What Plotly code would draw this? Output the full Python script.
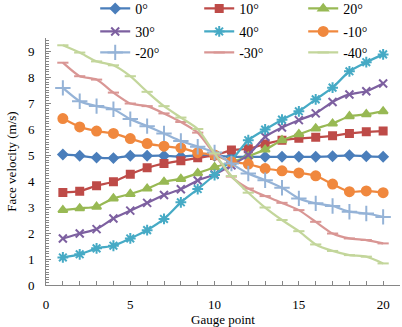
import plotly.graph_objects as go

# gauge points along the face
gauge = [1, 2, 3, 4, 5, 6, 7, 8, 9, 10, 11, 12, 13, 14, 15, 16, 17, 18, 19, 20]

# face velocity (m/s) for each inclination angle
v_0 = [5.02, 4.97, 4.90, 4.88, 4.97, 4.97, 4.97, 4.94, 4.99, 4.97,
       4.93, 4.93, 4.93, 4.93, 4.93, 4.93, 4.95, 4.99, 4.95, 4.93]
v_10 = [3.56, 3.61, 3.82, 3.97, 4.26, 4.51, 4.67, 4.78, 4.89, 4.98,
        5.19, 5.24, 5.42, 5.57, 5.64, 5.68, 5.74, 5.83, 5.89, 5.92]
v_20 = [2.88, 2.95, 3.01, 3.33, 3.50, 3.71, 3.97, 4.08, 4.30, 4.53,
        4.72, 4.95, 5.21, 5.57, 5.80, 6.02, 6.21, 6.49, 6.57, 6.68]
v_30 = [1.79, 1.98, 2.15, 2.56, 2.86, 3.16, 3.46, 3.68, 4.02, 4.25,
        4.60, 5.00, 5.70, 6.06, 6.34, 6.60, 7.04, 7.33, 7.45, 7.75]
v_40 = [1.06, 1.18, 1.41, 1.51, 1.79, 2.11, 2.54, 3.18, 3.69, 4.23,
        4.80, 5.57, 5.98, 6.36, 6.68, 7.14, 7.59, 8.22, 8.57, 8.87]
v_m10 = [6.40, 6.08, 5.92, 5.83, 5.63, 5.44, 5.34, 5.27, 5.09, 5.00,
         4.74, 4.65, 4.48, 4.39, 4.31, 4.20, 3.88, 3.59, 3.62, 3.55]
v_m20 = [7.58, 7.07, 6.88, 6.76, 6.38, 6.11, 5.83, 5.54, 5.32, 5.10,
         4.67, 4.29, 4.03, 3.74, 3.33, 3.14, 3.04, 2.82, 2.75, 2.62]
v_m30 = [8.55, 8.03, 7.90, 7.40, 6.98, 6.88, 6.60, 6.27, 5.86, 5.02,
         4.17, 3.71, 3.42, 3.16, 2.88, 2.43, 1.98, 1.79, 1.73, 1.60]
v_m40 = [9.22, 8.94, 8.60, 8.45, 8.03, 7.43, 6.88, 6.44, 6.00, 5.06,
         4.19, 3.55, 2.98, 2.50, 2.07, 1.56, 1.31, 1.15, 1.09, 0.83]

series = [
    ("0°", v_0, "#4A7EBB", "diamond", 7, "legend"),
    ("10°", v_10, "#BE4B48", "square", 7, "legend"),
    ("20°", v_20, "#98B954", "triangle-up", 8, "legend"),
    ("30°", v_30, "#7D60A0", "x-thin-open", 8, "legend2"),
    ("40°", v_40, "#46AAC5", "asterisk-open", 9, "legend2"),
    ("-10°", v_m10, "#F0883E", "circle", 9, "legend2"),
    ("-20°", v_m20, "#95B3D7", "cross-thin-open", 11, "legend3"),
    ("-30°", v_m30, "#D99694", "line-ew-open", 8, "legend3"),
    ("-40°", v_m40, "#C3D69B", "line-ew-open", 8, "legend3"),
]

fig = go.Figure()
for name, vals, col, sym, sz, lg in series:
    fig.add_trace(go.Scatter(
        x=gauge, y=vals, name=name, mode="lines+markers",
        line=dict(color=col, width=2.25, shape="spline", smoothing=0.6),
        marker=dict(symbol=sym, size=sz, color=col, line=dict(color=col, width=2)),
        legend=lg,
    ))

serif = "Liberation Serif"
leg = dict(orientation="h", x=0.139, xanchor="left", yanchor="middle",
           bgcolor="rgba(0,0,0,0)", entrywidth=59, entrywidthmode="pixels",
           font=dict(family=serif, size=14, color="black"), itemwidth=30,
           traceorder="normal")

fig.update_layout(
    width=402, height=327,
    margin=dict(l=46, r=2, t=38, b=42, autoexpand=False),
    paper_bgcolor="white", plot_bgcolor="white",
    font=dict(family=serif, size=13, color="black"),
    legend=dict(leg, y=1.118),
    legend2=dict(leg, y=1.025),
    legend3=dict(leg, y=0.94),
    xaxis=dict(
        range=[0, 21], tickvals=[0, 5, 10, 15, 20], showgrid=False, zeroline=False,
        showline=True, linecolor="#868686", linewidth=1,
        ticks="inside", ticklen=4, tickcolor="#868686",
        minor=dict(dtick=1, ticks="inside", ticklen=4, tickcolor="#868686"),
        ticklabelstandoff=7,
        title=dict(text="Gauge point", font=dict(size=13), standoff=1),
    ),
    yaxis=dict(
        range=[0, 9.5], tickvals=list(range(0, 10)), showgrid=False, zeroline=False,
        showline=True, linecolor="#868686", linewidth=1,
        ticks="inside", ticklen=5, tickcolor="#868686",
        minor=dict(dtick=0.1, ticks="inside", ticklen=3, tickcolor="#868686"),
        ticklabelstandoff=8,
        title=dict(text="Face velocity (m/s)", font=dict(size=13), standoff=8),
    ),
)

fig.write_html("out.html", config={"displayModeBar": False},
               post_script="document.body.style.margin='0';")
